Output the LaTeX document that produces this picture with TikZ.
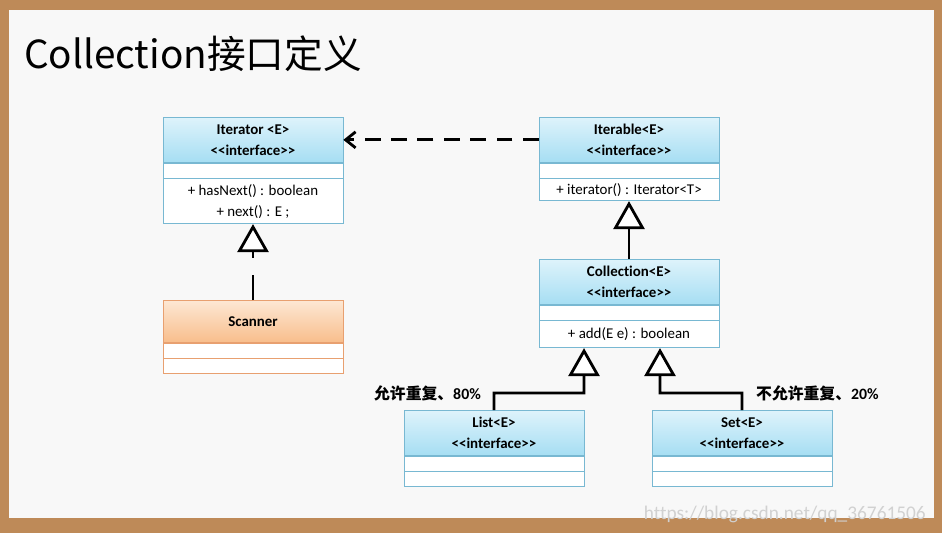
\documentclass[tikz,border=0pt]{standalone}
\usepackage{fontspec}
\setmainfont[Ligatures=NoCommon]{Carlito}
\newfontfamily\cjk{Noto Sans CJK SC}
\usetikzlibrary{positioning, arrows.meta}
\definecolor{frame}{RGB}{190, 138, 88}
\definecolor{paper}{RGB}{248, 248, 248}
\definecolor{bluetop}{RGB}{222, 243, 251}
\definecolor{bluebot}{RGB}{166, 222, 243}
\definecolor{blueline}{RGB}{120, 184, 210}
\definecolor{orgtop}{RGB}{253, 232, 212}
\definecolor{orgbot}{RGB}{248, 190, 140}
\definecolor{orgline}{RGB}{232, 160, 112}
\newcommand{\intf}{<{}<interface>{}>}
\tikzset{
  hdr/.style={draw=blueline, top color=bluetop, bottom color=bluebot, minimum width=3.6cm,
    minimum height=0.9cm, align=center, font=\bfseries\fontsize{8.5}{12}\selectfont, inner sep=0pt},
  row/.style={draw=blueline, fill=white, minimum width=3.6cm, minimum height=0.3cm,
    align=center, font=\fontsize{8.5}{12}\selectfont, inner sep=0pt},
  ohdr/.style={hdr, draw=orgline, top color=orgtop, bottom color=orgbot},
  orow/.style={row, draw=orgline},
  gen/.style={line width=1.6pt, -{Triangle[open, length=0.56cm, width=0.62cm, fill=white]}},
}
\begin{document}
\begin{tikzpicture}[x=0.02cm, y=-0.02cm]
  \useasboundingbox (0,0) rectangle (942,533);
  \fill[frame] (0,0) rectangle (942,533);
  \fill[paper] (9,10) rectangle (934,518);
  \node[anchor=west, font=\cjk\fontsize{22}{26}\selectfont] (title) at (18,54) {Collection接口定义};

  % Iterator
  \node[hdr, anchor=north] (iter) at (253,117) {Iterator <E>\\\intf};
  \node[row, below=0pt of iter] (iter-a) {};
  \node[row, below=0pt of iter-a, minimum height=0.9cm] (iter-m) {+ hasNext() : boolean\\+ next() : E ;};

  % Scanner
  \node[ohdr, anchor=north, minimum height=0.84cm] (scan) at (253,300) {Scanner};
  \node[orow, below=0pt of scan] (scan-a) {};
  \node[orow, below=0pt of scan-a] (scan-b) {};

  % Iterable
  \node[hdr, anchor=north] (itbl) at (629,117) {Iterable<E>\\\intf};
  \node[row, below=0pt of itbl] (itbl-a) {};
  \node[row, below=0pt of itbl-a, minimum height=0.44cm] (itbl-m) {+ iterator() : Iterator<T>};

  % Collection
  \node[hdr, anchor=north] (coll) at (629,259) {Collection<E>\\\intf};
  \node[row, below=0pt of coll] (coll-a) {};
  \node[row, below=0pt of coll-a, minimum height=0.54cm] (coll-m) {+ add(E e) : boolean};

  % List and Set
  \node[hdr, anchor=north] (list) at (494,410) {List<E>\\\intf};
  \node[row, below=0pt of list] (list-a) {};
  \node[row, below=0pt of list-a] (list-b) {};
  \node[hdr, anchor=north] (set) at (742,410) {Set<E>\\\intf};
  \node[row, below=0pt of set] (set-a) {};
  \node[row, below=0pt of set-a] (set-b) {};

  \coordinate (c-list) at ([xshift=-0.9cm]coll-m.south);
  \coordinate (c-set) at ([xshift=0.62cm]coll-m.south);
  \coordinate (b-list) at (584,393);
  \coordinate (b-set) at (660,393);

  \draw[line width=1.6pt, dash pattern=on 9pt off 6pt, -{Straight Barb[length=0.2cm, width=0.32cm]}]
    (itbl.west) -- (iter.east);
  \draw[gen, dash pattern=on 14pt off 10pt] (scan.north) -- (iter-m.south);
  \draw[gen] (coll.north) -- (itbl-m.south);
  \draw[gen] (list.north) |- (b-list) -- (c-list);
  \draw[gen] (set.north) |- (b-set) -- (c-set);

  \node[anchor=east, font=\bfseries\fontsize{9}{11}\selectfont] (l80) at (487,393) {{\cjk 允许重复、}80\%};
  \node[anchor=west, font=\bfseries\fontsize{9}{11}\selectfont] (l20) at (750,393) {{\cjk 不允许重复、}20\%};
  \node[anchor=east, text=black!18, font=\fontsize{11}{12}\selectfont] (wm) at (932,514) {https://blog.csdn.net/qq\_36761506};
\end{tikzpicture}
\end{document}
